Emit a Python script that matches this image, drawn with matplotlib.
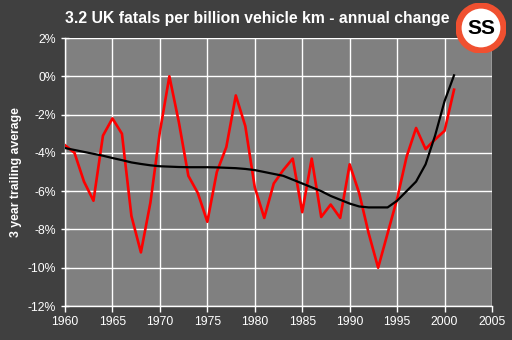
import matplotlib
matplotlib.use("Agg")
import matplotlib.pyplot as plt
from matplotlib.patches import Circle
from matplotlib.ticker import FuncFormatter, MultipleLocator

years = list(range(1960, 2002))
annual_change = [-3.6, -4.0, -5.5, -6.5, -3.1, -2.2, -3.0, -7.3, -9.2, -6.6,
                 -2.9, 0.0, -2.4, -5.2, -6.1, -7.6, -5.0, -3.7, -1.0, -2.6,
                 -5.8, -7.4, -5.6, -4.9, -4.3, -7.1, -4.3, -7.35, -6.7, -7.4,
                 -4.6, -6.1, -8.2, -10.0, -8.2, -6.4, -4.2, -2.7, -3.8, -3.3,
                 -2.85, -0.7]
trend = [-3.75, -3.85, -3.95, -4.05, -4.15, -4.27, -4.38, -4.5, -4.58, -4.65,
         -4.7, -4.72, -4.74, -4.75, -4.75, -4.75, -4.76, -4.78, -4.8, -4.84,
         -4.9, -5.0, -5.1, -5.2, -5.4, -5.6, -5.8, -6.0, -6.25, -6.45,
         -6.65, -6.8, -6.85, -6.85, -6.85, -6.5, -6.0, -5.5, -4.6, -3.1,
         -1.3, 0.05]

title = "3.2 UK fatals per billion vehicle km - annual change"
ylabel = "3 year trailing average"

plt.rcParams['font.family'] = ['Liberation Sans', 'DejaVu Sans']

fig = plt.figure(figsize=(5.12, 3.40), dpi=100, facecolor='#404040')
ax = fig.add_axes([65/512, 1-306/340, (492-65)/512, (306-38)/340])
ax.set_facecolor('#808080')

ax.plot(years, annual_change, color='#ff0000', lw=1.9, zorder=3)
ax.plot(years, trend, color='black', lw=1.6, zorder=4)

ax.set_xlim(1960, 2005)
ax.set_ylim(-12, 2)
ax.xaxis.set_major_locator(MultipleLocator(5))
ax.yaxis.set_major_locator(MultipleLocator(2))
ax.yaxis.set_major_formatter(FuncFormatter(lambda v, p: f"{int(round(v))}%"))
ax.grid(True, color='white', lw=1.0)
ax.set_axisbelow(True)
for s in ['top', 'right']:
    ax.spines[s].set_visible(False)
for s in ['left', 'bottom']:
    ax.spines[s].set_color('white')
    ax.spines[s].set_linewidth(1.0)
ax.tick_params(colors='white', labelsize=8.8, length=4, width=1, direction='out')
ax.tick_params(axis='y', direction='inout', length=6)
ax.set_ylabel(ylabel, color='white', fontsize=8.8, fontweight='bold', labelpad=4)

fig.text(0.503, 1-18/340, title, color='white', fontsize=11.3, fontweight='bold',
         ha='center', va='center')

ax_logo = fig.add_axes([456/512, 1-53/340, 50/512, 50/340])
ax_logo.set_xlim(-1, 1)
ax_logo.set_ylim(-1, 1)
ax_logo.set_aspect('equal')
ax_logo.axis('off')
ax_logo.add_patch(Circle((0, 0), 0.9, facecolor='white', edgecolor='#f05030', lw=4.5))
ax_logo.text(0, -0.02, "SS", ha='center', va='center', fontsize=15,
             fontweight='bold', color='black')

fig.savefig("out.png", dpi=100, facecolor=fig.get_facecolor())
